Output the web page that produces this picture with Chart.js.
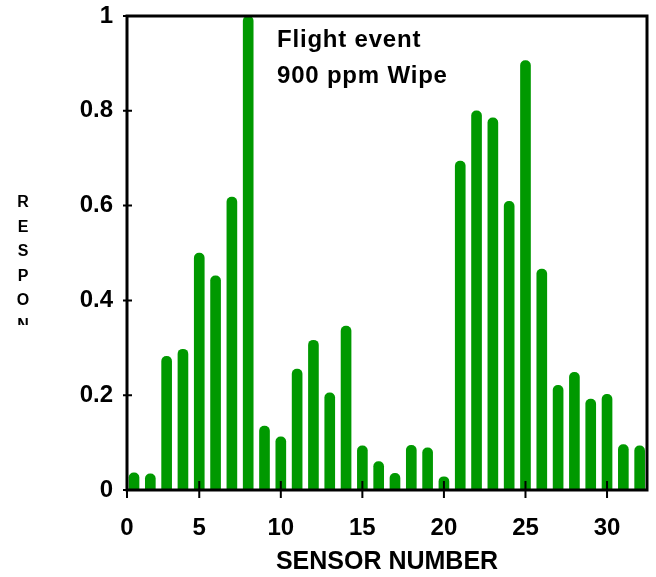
<!DOCTYPE html>
<html>
<head>
<meta charset="UTF-8">
<script src="https://cdn.jsdelivr.net/npm/chart.js@4"></script>
<style>
  html, body { margin: 0; padding: 0; background: #fff; }
  #wrap { width: 656px; height: 577px; }
</style>
</head>
<body>
<div id="wrap"><canvas id="c" width="656" height="577"></canvas></div>
<script>
// sensor response
const sensors = [1,2,3,4,5,6,7,8,9,10,11,12,13,14,15,16,17,18,19,20,21,22,23,24,25,26,27,28,29,30,31,32];
const responses = [0.036,0.034,0.282,0.297,0.500,0.452,0.618,1.0,0.135,0.112,0.255,0.316,0.205,0.346,0.093,0.060,
                   0.035,0.094,0.089,0.028,0.694,0.800,0.785,0.609,0.906,0.466,0.221,0.248,0.192,0.202,0.096,0.093];
const xTicks = [0, 5, 10, 15, 20, 25, 30];
const xTickLabels = ['0', '5', '10', '15', '20', '25', '30'];
const yTicks = [0, 0.2, 0.4, 0.6, 0.8, 1];
const yTickLabels = ['0', '0.2', '0.4', '0.6', '0.8', '1'];
const noteLines = ['Flight event', '900 ppm Wipe'];
const yTitle = 'RESPONSE';

const xMin = 0.57, xMax = 32.45;
const FONT = "'Liberation Sans', Arial, sans-serif";
const GREEN = '#009900';

// frame, crossing tick marks, note and stacked y title
const extras = {
  id: 'extras',
  afterDatasetsDraw(chart) {
    const { ctx, chartArea: a, scales } = chart;
    ctx.save();
    ctx.strokeStyle = '#000';
    ctx.lineWidth = 3;
    ctx.strokeRect(a.left, a.top, a.right - a.left, a.bottom - a.top);
    ctx.lineWidth = 2;
    ctx.beginPath();
    scales.x.ticks.forEach(t => {
      const px = scales.x.getPixelForValue(t.value);
      ctx.moveTo(px, a.bottom - 9);
      ctx.lineTo(px, a.bottom + 8);
    });
    scales.y.ticks.forEach(t => {
      const py = scales.y.getPixelForValue(t.value);
      ctx.moveTo(a.left - 4, py);
      ctx.lineTo(a.left + 5, py);
    });
    ctx.stroke();

    ctx.fillStyle = '#000';
    ctx.font = 'bold 24px ' + FONT;
    ctx.textAlign = 'left';
    ctx.textBaseline = 'alphabetic';
    if ('letterSpacing' in ctx) ctx.letterSpacing = '0.8px';
    noteLines.forEach((s, i) => ctx.fillText(s, 277, 47 + i * 36));
    if ('letterSpacing' in ctx) ctx.letterSpacing = '0px';

    // y title: letters stacked, cut off below the O as in the source
    ctx.beginPath();
    ctx.rect(0, 180, 60, 145);
    ctx.clip();
    ctx.font = 'bold 16px ' + FONT;
    ctx.textAlign = 'center';
    ctx.textBaseline = 'middle';
    yTitle.split('').forEach((ch, i) => ctx.fillText(ch, 23, 203 + i * 24.5));
    ctx.restore();
  }
};

new Chart(document.getElementById('c'), {
  type: 'bar',
  data: {
    datasets: [{
      data: sensors.map((s, i) => ({ x: s, y: responses[i] })),
      backgroundColor: GREEN,
      borderWidth: 0,
      barThickness: 10,
      borderRadius: { topLeft: 5, topRight: 5, bottomLeft: 0, bottomRight: 0 },
      borderSkipped: 'bottom'
    }]
  },
  options: {
    responsive: false,
    animation: false,
    events: [],
    layout: { padding: { top: 16, right: 9, left: 0, bottom: 0 } },
    plugins: { legend: { display: false }, tooltip: { enabled: false } },
    scales: {
      x: {
        type: 'linear',
        min: xMin,
        max: xMax,
        offset: false,
        grid: { display: false, offset: false, drawTicks: false },
        border: { display: false },
        afterBuildTicks: s => { s.ticks = xTicks.map(v => ({ value: Math.max(v, xMin) })); },
        afterFit: s => { s.height = 87; s.paddingLeft = 0; s.paddingRight = 0; },
        ticks: {
          autoSkip: false,
          maxRotation: 0,
          padding: 24,
          color: '#000',
          font: { family: FONT, size: 24, weight: 'bold' },
          callback: (v, i) => xTickLabels[i]
        },
        title: {
          display: true,
          text: 'SENSOR NUMBER',
          color: '#000',
          font: { family: FONT, size: 25, weight: 'bold', lineHeight: 1 },
          padding: { top: 0, bottom: 2 }
        }
      },
      y: {
        min: 0,
        max: 1,
        grid: { display: false, drawTicks: false },
        border: { display: false },
        afterBuildTicks: s => { s.ticks = yTicks.map(v => ({ value: v })); },
        afterFit: s => { s.width = 127; s.paddingTop = 0; s.paddingBottom = 0; },
        ticks: {
          padding: 14,
          color: '#000',
          font: { family: FONT, size: 24, weight: 'bold' },
          callback: (v, i) => yTickLabels[i]
        }
      }
    }
  },
  plugins: [extras]
});
</script>
</body>
</html>
